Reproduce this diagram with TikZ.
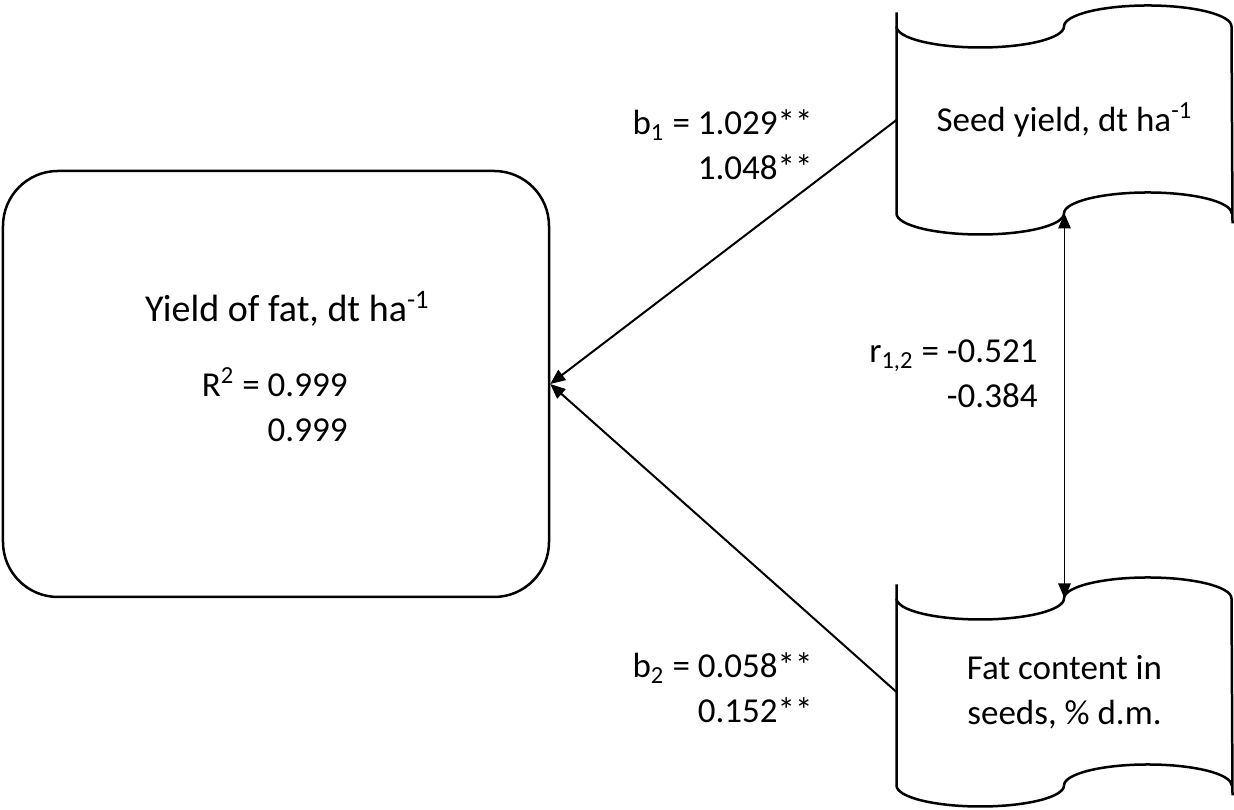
\documentclass[tikz,border=0pt]{standalone}
\usepackage{fontspec}
\setmainfont{Carlito}
\usetikzlibrary{arrows.meta}

\tikzset{
  outline/.style={line width=1pt},
  fatbox/.style={draw, outline, rounded corners=22pt, minimum width=218.4pt, minimum height=170.4pt, inner sep=0pt},
  tapebox/.style={minimum width=134pt, minimum height=74.4pt, inner sep=0pt, align=center, font=\fontsize{14}{18}\selectfont},
  lbl/.style={inner sep=0pt, font=\fontsize{14}{18}\selectfont},
  conn/.style={line width=0.8pt, -{Triangle[length=6pt,width=5pt]}}
}

% punched tape outline round a tapebox node
\newcommand{\tapeline}[1]{%
  \draw[outline] ([yshift=5.6pt]#1.north west) -- (#1.south west)
    arc[start angle=180, end angle=360, x radius=33.5pt, y radius=8.4pt]
    arc[start angle=180, end angle=0, x radius=33.5pt, y radius=8.4pt];
  \draw[outline] (#1.north west)
    arc[start angle=180, end angle=360, x radius=33.5pt, y radius=8.4pt]
    arc[start angle=180, end angle=0, x radius=33.5pt, y radius=8.4pt]
    -- ([yshift=-4pt]#1.south east);
}

\begin{document}
\begin{tikzpicture}[x=0.4pt, y=0.4pt]
	\useasboundingbox (0,0) rectangle (1234,810);
	
	\node[fatbox] (fat) at (276,426) {};
	\node[anchor=base, inner sep=0pt, font=\fontsize{15.2}{18}\selectfont] (title) at (287.5,488) {Yield of fat, dt ha\textsuperscript{-1}};
	\node[lbl, anchor=base east] (rsq) at (348,413) {\begin{tabular}[t]{@{}r@{}}R\textsuperscript{2} = 0.999\\0.999\end{tabular}};
	
	\node[tapebox] (seed) at (1064.5,690) {Seed yield, dt ha\textsuperscript{-1}};
	\node[tapebox] (fatc) at (1064.5,118) {Fat content in\\seeds, \% d.m.};
	\tapeline{seed}
	\tapeline{fatc}
	
	\draw[conn] (seed.west) -- (fat.east);
	\draw[conn] (fatc.west) -- (fat.east);
	\draw[conn, line width=0.6pt, {Triangle[length=6pt,width=5pt]}-{Triangle[length=6pt,width=5pt]}] (seed.south) -- (fatc.north);
	
	\node[lbl, anchor=base east] (bone) at (813,675) {\begin{tabular}[t]{@{}r@{}}b\textsubscript{1} = 1.029**\\1.048**\hspace{2pt}\end{tabular}};
	\node[lbl, anchor=base east] (btwo) at (813,132) {\begin{tabular}[t]{@{}r@{}}b\textsubscript{2} = 0.058**\\0.152**\end{tabular}};
	\node[lbl, anchor=base east] (rcor) at (1038,447) {\begin{tabular}[t]{@{}r@{}}r\textsubscript{1,2} = -0.521\\-0.384\hspace{2pt}\end{tabular}};
\end{tikzpicture}
\end{document}
